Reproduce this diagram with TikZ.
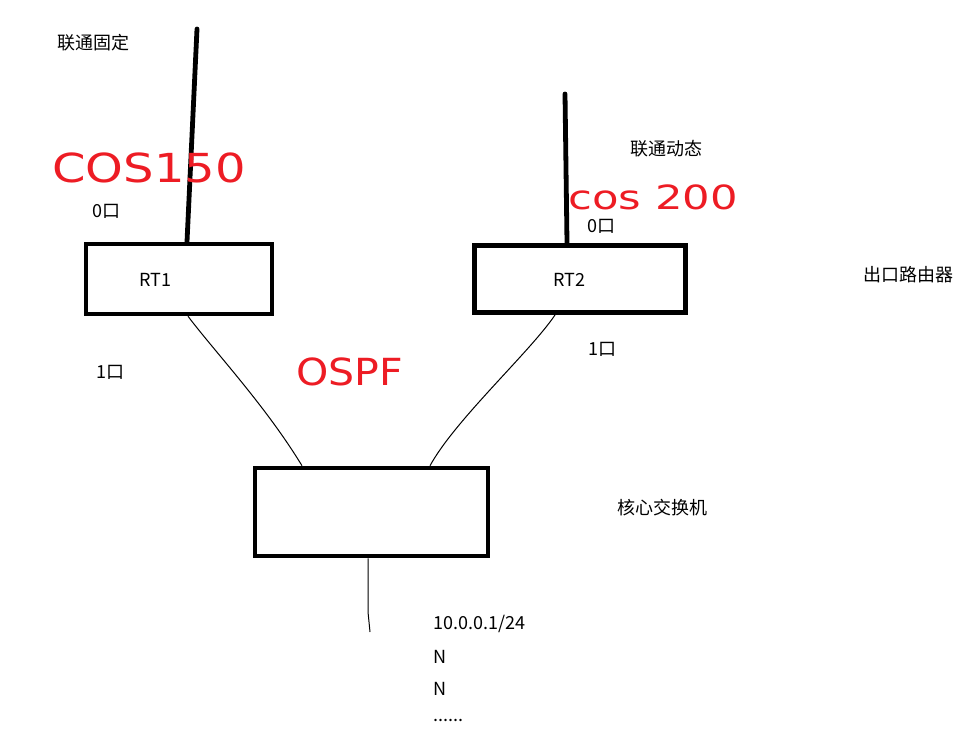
\documentclass[tikz,border=0pt]{standalone}
\usepackage{fontspec}
\setmainfont{Noto Sans CJK SC}
\newfontfamily\handfont{DejaVu Sans}
\definecolor{paintred}{RGB}{237,28,36}
\begin{document}
\begin{tikzpicture}[x=0.75pt,y=-0.75pt,
  box/.style={draw=black,line width=3.4pt,minimum width=#1,inner sep=0pt},
  lbl/.style={font=\fontsize{13.5pt}{15pt}\selectfont,inner sep=0pt,anchor=west},
  hand/.style={text=paintred,inner sep=0pt,transform shape},
  antenna/.style={line width=3.6pt,line cap=round},
  wire/.style={line width=0.75pt}]
\useasboundingbox (0,0) rectangle (962,755);
% boxes
\node[box=139.5pt,minimum height=52.5pt] (rt1) at (179,279) {};
\node[box=158.6pt,minimum height=50.6pt] (rt2) at (580,279) {};
\node[box=174.8pt,minimum height=66pt] (core) at (371.5,512) {};
% box texts
\node[lbl] (t1) at (139,280) {RT1};
\node[lbl] (t2) at (553,280) {RT2};
% antennas
\coordinate (a1) at (197,29);
\coordinate (a2) at (565,94);
\draw[antenna] (a1) -- (rt1.north -| 187,0);
\draw[antenna] (a2) -- (rt2.north -| 567,0);
% wires
\draw[wire] (rt1.south -| 188,0) .. controls (215,352) and (265,405) .. (core.north -| 302,0);
\draw[wire] (rt2.south -| 555,0) .. controls (530,352) and (455,420) .. (core.north -| 430,0);
\coordinate (dn) at (370,632);
\draw[wire] (core.south -| 368,0) -- (368,612) -- (dn);
% labels
\node[lbl] (l1) at (57,43) {联通固定};
\node[lbl] (l2) at (630,149) {联通动态};
\node[lbl] (p10) at (92,211) {0口};
\node[lbl] (p20) at (587,226) {0口};
\node[lbl] (p11) at (96,372) {1口};
\node[lbl] (p21) at (588,349) {1口};
\node[lbl] (out) at (863,275) {出口路由器};
\node[lbl] (cs) at (617,508) {核心交换机};
\node[lbl] (ip) at (433,624) {10.0.0.1/24};
\node[lbl] (n1) at (433,657) {N};
\node[lbl] (n2) at (433,689) {N};
\node[lbl] (dots) at (433,720) {......};
% red handwriting
\node[hand,xscale=1.2,anchor=west] (c1) at (52,168) {\fontsize{30pt}{30pt}\handfont COS150};
\node[hand,xscale=1.3,anchor=west] (c2) at (568,197) {\fontsize{25pt}{25pt}\handfont cos 200};
\node[hand,xscale=1.1,anchor=west] (c3) at (296,372) {\fontsize{28pt}{28pt}\handfont OSPF};
\end{tikzpicture}
\end{document}
